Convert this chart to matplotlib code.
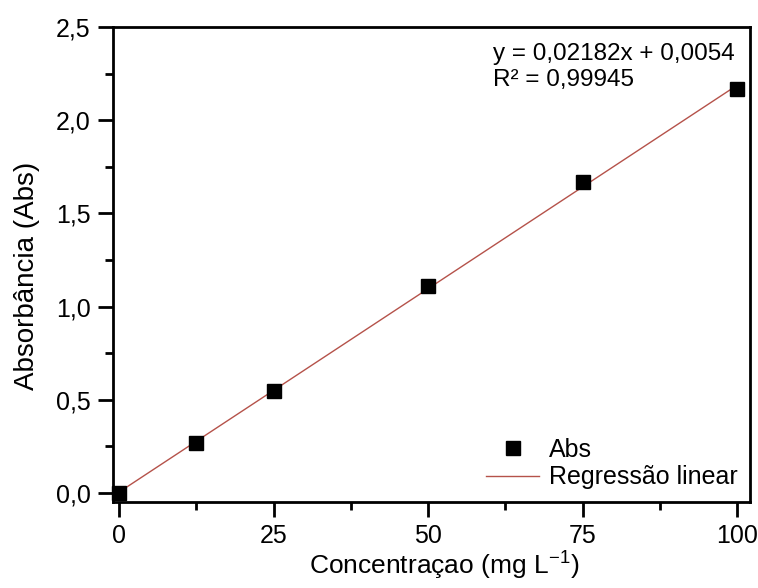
import matplotlib
matplotlib.use('Agg')
import matplotlib.pyplot as plt
from matplotlib.ticker import MultipleLocator, FuncFormatter
import numpy as np

plt.rcParams['font.family'] = ['Liberation Sans', 'DejaVu Sans']
plt.rcParams['mathtext.fontset'] = 'custom'
plt.rcParams['mathtext.rm'] = 'Liberation Sans'

conc = [0, 12.5, 25, 50, 75, 100]
absorb = [0.0, 0.27, 0.545, 1.11, 1.67, 2.165]
slope = 0.02182
intercept = 0.0054
r2 = 0.99945

fig = plt.figure(figsize=(7.58, 5.88), dpi=100)
ax = fig.add_axes([0.1491, 0.1463, 0.8404, 0.8078])

x_fit = np.array([conc[0], conc[-1]])
ax.plot(x_fit, slope * x_fit + intercept, color='#b5524a', lw=1.0,
        label='Regressão linear', zorder=2)
ax.plot(conc, absorb, 's', color='black', ms=10.5, label='Abs', zorder=3,
        clip_on=False)

ax.set_xlim(-1, 102.1)
ax.set_ylim(-0.048, 2.5)
ax.xaxis.set_major_locator(MultipleLocator(25))
ax.xaxis.set_minor_locator(MultipleLocator(12.5))
ax.yaxis.set_major_locator(MultipleLocator(0.5))
ax.yaxis.set_minor_locator(MultipleLocator(0.25))
ax.yaxis.set_major_formatter(FuncFormatter(lambda v, p: f'{v:.1f}'.replace('.', ',')))

ax.tick_params(which='major', direction='out', length=11, width=2, labelsize=18, pad=5)
ax.tick_params(which='minor', direction='out', length=6, width=2)
for s in ax.spines.values():
    s.set_linewidth(2)

ax.set_xlabel('Concentraçao (mg L$^{-1}$)', fontsize=19, labelpad=4)
ax.xaxis.set_label_coords(0.52, -0.098)
ax.set_ylabel('Absorbância (Abs)', fontsize=20)
ax.yaxis.set_label_coords(-0.115, 0.475)

eq = f'y = {slope:.5f}x + {intercept:.4f}'.replace('.', ',')
ax.text(0.976, 0.966, eq + '\n' + f'R² = {r2:.5f}'.replace('.', ','),
        transform=ax.transAxes, ha='right', va='top', fontsize=17.5,
        linespacing=1.25, multialignment='left')

h, l = ax.get_legend_handles_labels()
ax.legend([h[1], h[0]], [l[1], l[0]], loc='lower right', frameon=False,
          fontsize=18, handlelength=2.1, borderaxespad=0.2, borderpad=0.3,
          labelspacing=0.15, handletextpad=0.4)

fig.savefig('out.png', dpi=100)
